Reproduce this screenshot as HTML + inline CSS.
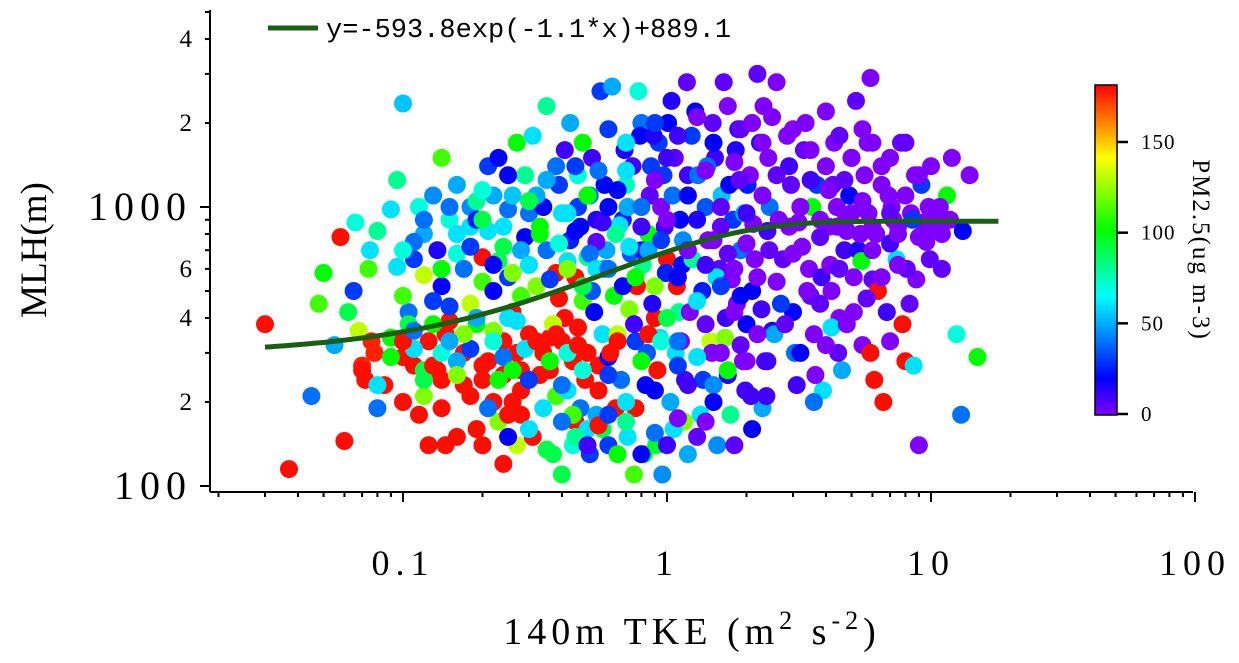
<!DOCTYPE html>
<html><head><meta charset="utf-8"><style>
html,body{margin:0;padding:0;background:#fff;}
svg{display:block;font-family:"Liberation Serif","Noto Serif CJK SC",serif;}
</style></head><body>
<svg id="chart" width="1239" height="663" viewBox="0 0 1239 663" xmlns="http://www.w3.org/2000/svg">
<defs>
<linearGradient id="cbg" x1="0" y1="1" x2="0" y2="0">
<stop offset="0" stop-color="#8000ff"/><stop offset="0.11" stop-color="#0000ff"/><stop offset="0.36" stop-color="#00ffff"/><stop offset="0.56" stop-color="#00ff00"/><stop offset="0.78" stop-color="#ffff00"/><stop offset="1" stop-color="#ff0000"/>
</linearGradient>
</defs>
<g id="points"></g>
<g id="fit"></g>
<g id="axes"></g>
<g>
<line x1="268" y1="28" x2="318" y2="28" stroke="#1a5e12" stroke-width="5"/>
<text x="326" y="37" font-size="27" font-family="Liberation Mono, monospace">y=-593.8exp(-1.1*x)+889.1</text>
</g>
<g>
<rect x="1095" y="85" width="22" height="330" fill="url(#cbg)" stroke="#000" stroke-width="1.5"/>
<g id="cbticks"></g>
<text transform="translate(1193,250) rotate(90)" text-anchor="middle" font-size="25" letter-spacing="2">PM2.5(ug m-3)</text>
</g>
<text transform="translate(46,250) rotate(-90)" text-anchor="middle" font-size="37">MLH(m)</text>
<text x="692" y="644" text-anchor="middle" font-size="38" letter-spacing="5">140m TKE (m<tspan font-size="26" dy="-15">2</tspan><tspan dy="15"> s</tspan><tspan font-size="26" dy="-15">-2</tspan><tspan dy="15">)</tspan></text>
</svg>
<script>
const tke=[
0.03,0.037,0.045,0.05,0.055,0.06,0.065,0.07,0.075,0.08,
0.048,0.058,0.068,0.072,0.078,0.062,0.074,0.08,0.066,0.076,
0.085,0.09,0.095,0.1,0.105,0.11,0.115,0.12,0.125,0.13,
0.135,0.14,0.145,0.15,0.09,0.1,0.11,0.12,0.13,0.14,
0.095,0.105,0.115,0.125,0.135,0.145,0.1,0.12,0.14,0.11,
0.16,0.17,0.18,0.19,0.2,0.21,0.22,0.23,0.24,0.25,
0.26,0.27,0.28,0.29,0.3,0.16,0.18,0.2,0.22,0.24,
0.17,0.19,0.21,0.23,0.25,0.27,0.29,0.18,0.2,0.22,
0.24,0.26,0.28,0.3,0.15,0.17,0.19,0.21,0.23,0.25,
0.16,0.2,0.24,0.28,0.18,0.22,0.26,0.3,0.19,0.27,
0.31,0.33,0.35,0.37,0.39,0.41,0.43,0.45,0.47,0.5,
0.52,0.55,0.58,0.6,0.32,0.34,0.36,0.38,0.4,0.42,
0.44,0.46,0.48,0.51,0.54,0.57,0.31,0.35,0.39,0.43,
0.47,0.51,0.55,0.59,0.33,0.37,0.41,0.45,0.49,0.53,
0.57,0.34,0.38,0.42,0.46,0.5,0.54,0.58,0.36,0.48,
0.32,0.4,0.44,0.52,0.56,0.6,0.38,0.46,0.54,0.42,
0.62,0.65,0.68,0.71,0.74,0.77,0.8,0.83,0.86,0.9,
0.93,0.96,1.0,1.04,1.08,1.12,1.16,1.2,0.63,0.67,
0.7,0.73,0.76,0.79,0.82,0.85,0.88,0.92,0.95,0.99,
1.03,1.07,1.11,1.15,1.19,0.64,0.69,0.75,0.81,0.87,
0.94,1.01,1.09,1.17,0.66,0.72,0.78,0.84,0.91,0.98,
1.05,1.13,0.61,0.71,0.8,0.89,0.97,1.06,1.14,0.76,
1.22,1.28,1.34,1.4,1.46,1.52,1.58,1.64,1.7,1.78,
1.86,1.94,2.02,2.1,2.2,2.3,2.4,2.5,1.25,1.31,
1.37,1.43,1.49,1.55,1.61,1.67,1.74,1.82,1.9,1.98,
2.06,2.15,2.25,2.35,2.45,1.24,1.36,1.48,1.6,1.72,
1.84,1.96,2.08,2.2,2.32,2.44,1.3,1.42,1.54,1.66,
1.76,1.88,2.0,2.12,2.28,2.42,1.5,1.8,2.1,2.38,
2.6,2.75,2.9,3.05,3.2,3.35,3.5,3.7,3.9,4.1,
4.3,4.5,4.7,4.9,5.2,5.5,5.8,6.0,2.65,2.85,
3.0,3.15,3.3,3.45,3.6,3.8,4.0,4.2,4.4,4.6,
4.8,5.0,5.3,5.6,5.9,2.7,2.95,3.25,3.55,3.85,
4.15,4.45,4.75,5.1,5.45,5.75,2.55,3.1,3.65,4.25,
6.2,6.5,6.8,7.1,7.4,7.7,8.0,8.4,8.8,9.2,
9.6,10,10.5,11,11.5,12,12.5,13,14,15,
6.3,6.9,7.5,8.1,8.7,9.3,9.9,10.8,6.6,7.2,
7.8,8.6,9.0,5.9,6.1,11.8,13.2,7.0,8.3,9.8,
0.1,0.11,0.12,0.13,0.14,0.15,0.16,0.17,0.18,0.19,
0.2,0.21,0.22,0.23,0.24,0.25,0.26,0.27,0.28,0.29,
0.3,0.32,0.34,0.36,0.38,0.4,0.42,0.44,0.46,0.48,
0.1,0.12,0.14,0.16,0.18,0.2,0.22,0.24,0.26,0.28,
0.3,0.33,0.36,0.39,0.42,0.45,0.48,0.51,0.54,0.57,
0.6,0.64,0.68,0.72,0.76,0.8,0.85,0.9,0.95,1.0,
0.6,0.65,0.7,0.75,0.8,0.85,0.9,0.95,1.0,1.1,
1.1,1.2,1.3,1.4,1.5,1.6,1.7,1.8,1.9,2.0,
1.1,1.2,1.3,1.4,1.5,1.6,1.7,1.8,1.9,2.0,
2.2,2.4,2.6,2.8,3.0,3.2,3.4,3.6,3.8,4.0,
4.2,4.5,4.8,5.1,5.4,5.7,6.0,6.5,7.0,7.5,
0.15,0.2,0.25,0.3,0.35,0.4,0.45,0.5,0.55,0.6,
0.65,0.7,0.8,0.9,1.0,1.2,1.4,1.6,1.8,2.0,
2.3,2.6,2.9,3.2,3.5,3.8,4.1,4.4,4.7,5.0,
5.5,6.0,6.5,7.0,7.5,8.0,8.5,9.0,10,11,
0.5,0.6,0.7,0.8,0.9,1.0,1.1,1.2,1.3,1.4,
0.07,0.08,0.09,0.1,0.11,0.12,0.13,0.14,0.15,0.16,
0.7,0.9,1.1,1.3,1.5,1.7,1.9,2.1,2.3,2.5,
3,3.5,4,4.5,5,5.5,6,7,8,9,
0.2,0.25,0.3,0.35,0.4,0.45,0.5,0.55,0.6,0.65];
const mlh=[
380,115,210,580,320,145,500,270,700,820,
450,780,360,240,300,420,600,190,880,330,
230,980,1250,2350,420,650,180,800,330,1100,
260,520,140,900,340,290,750,210,460,1500,
610,380,1000,140,700,350,480,570,240,270,
1200,300,850,160,540,1400,200,640,120,980,
420,1700,260,780,350,680,450,240,1100,330,
230,380,820,170,560,300,1300,1000,140,500,
720,200,480,950,390,600,1050,280,1500,400,
150,660,250,180,310,360,1100,620,900,140,
1800,250,700,130,1200,400,2000,170,850,300,
1500,220,600,1900,520,1000,340,210,110,640,
280,1300,460,130,900,350,150,2300,470,760,
190,1100,270,700,800,380,1600,560,240,420,
160,300,1400,220,1000,660,180,1200,260,1700,
1100,330,140,500,2600,290,580,370,750,950,
2700,350,900,150,1400,520,2000,230,1100,400,
1700,110,650,2400,300,900,170,1300,480,240,
1200,680,330,1800,130,800,450,260,1000,580,
200,1500,420,760,2800,190,1600,110,620,1400,
340,2000,520,240,860,430,2600,300,140,850,
1100,330,300,1000,700,1800,1300,160,620,190,
420,2200,180,1000,330,1500,600,2800,250,900,
1900,280,1200,500,3000,190,820,360,650,1300,
240,760,2000,140,1100,400,180,1600,700,220,
1300,650,1700,280,1000,1800,500,300,850,1200,
450,950,210,560,2300,700,900,1400,560,340,
550,1250,380,870,430,1500,230,140,160,210,
2800,650,1400,300,1000,2000,480,1200,220,850,
1700,400,700,1100,2400,320,950,550,900,1800,
420,880,1600,600,200,780,1400,370,1000,260,
820,1500,700,1300,2900,450,1200,720,1000,560,
620,300,900,420,640,1700,350,230,250,1200,
800,1400,420,1000,650,1700,280,950,550,1200,
750,1400,900,600,1100,1500,350,180,1300,290,
500,1100,850,600,1300,880,650,1000,200,900,
380,270,140,300,240,900,820,330,450,1000,
200,310,260,380,190,440,280,350,210,400,
270,190,330,240,290,180,260,390,220,310,
240,330,190,280,350,230,300,180,320,260,
700,900,600,800,720,900,620,850,580,700,
620,850,550,740,600,820,520,680,600,880,
600,800,520,720,560,850,700,520,760,900,
250,330,200,380,280,350,220,330,400,270,
560,700,460,620,760,520,680,600,480,740,
330,230,290,380,200,300,260,420,320,280,
350,280,540,380,680,300,500,350,450,320,
500,600,380,560,800,470,700,560,740,620,
1000,1150,1300,1050,1250,950,1400,1100,1350,1000,
1150,1350,1000,1250,1500,1100,1350,1000,1450,950,
1100,1300,850,1000,1250,900,1150,850,1250,950,
1050,850,1200,950,800,1100,900,780,850,800,
160,140,170,130,155,140,175,130,150,170,
260,230,290,330,360,240,270,300,330,250,
1700,2000,1800,2100,1700,2300,1900,2000,1700,2100,
1900,1600,2200,1800,1500,1900,1700,1500,1700,1300,
140,150,160,135,170,150,140,165,180,130];
const pm=[
178,178,40,100,50,178,30,175,60,80,
110,178,130,178,175,90,110,40,70,175,
178,60,80,55,40,30,178,50,178,45,
178,20,178,70,100,178,40,120,30,110,
60,90,70,178,15,178,110,130,178,178,
50,178,60,178,110,30,178,90,178,40,
178,100,178,20,178,70,130,178,50,178,
178,100,60,120,30,178,80,45,178,20,
90,178,110,40,178,40,80,178,20,60,
178,178,178,178,30,120,55,70,25,130,
60,178,40,90,30,178,50,178,20,178,
10,178,45,30,120,20,178,110,90,60,
178,70,110,30,15,60,178,80,178,25,
40,40,178,50,100,130,10,178,178,20,
90,178,40,60,30,80,50,20,178,100,
50,178,70,35,30,20,178,178,5,60,
50,130,25,60,10,178,40,20,5,178,
30,45,178,15,60,20,120,10,100,40,
75,35,30,20,90,100,15,178,0,25,
50,5,80,45,5,178,15,110,80,30,
60,20,178,10,60,120,70,35,95,10,
40,0,178,50,25,15,30,60,20,178,
0,20,60,35,130,10,5,5,15,30,
10,0,25,20,5,50,10,15,80,40,
30,0,5,45,55,10,80,15,40,10,
0,0,15,5,40,30,25,0,5,20,
0,50,10,0,0,5,15,40,60,120,
0,5,20,0,10,0,45,5,20,10,
0,5,10,40,0,0,5,30,60,0,
0,0,10,20,5,0,0,5,0,0,
20,0,5,0,40,5,0,60,0,50,
0,0,15,0,0,30,5,0,100,10,
0,5,0,0,100,0,50,10,0,5,
0,0,10,0,60,5,178,0,0,30,
0,0,0,5,100,0,70,40,0,100,
178,0,0,5,0,0,5,0,178,0,
178,60,0,178,178,0,20,0,5,0,
178,60,90,100,178,30,50,120,178,50,
178,40,70,100,40,178,100,60,178,60,
30,178,60,100,178,40,70,110,178,70,
70,40,100,60,30,90,20,60,120,50,
60,100,30,70,120,20,90,40,60,10,
40,80,20,60,100,10,50,120,30,0,
30,178,60,10,100,178,20,70,90,30,
20,0,60,10,0,30,5,0,20,0,
40,10,60,5,20,0,100,0,5,0,
0,10,0,5,0,20,0,0,5,0,
0,5,0,0,0,5,0,0,10,0,
40,70,20,90,50,60,30,100,40,20,
20,60,40,0,10,20,0,5,0,10,
0,5,0,0,10,0,0,0,5,0,
0,0,0,5,0,0,30,0,0,0,
60,30,80,20,40,10,0,50,5,0,
178,60,100,178,40,90,178,70,50,120,
60,30,10,0,20,0,5,0,0,0,
0,0,0,5,0,0,0,0,5,0,
178,20,60,90,40,80,10,178,30,100];
const fitCoef=[-593.8,-1.1,889.1];
const fitRange=[0.03,18];
const xTickVals=[0.1,1,10,100];
const xTickLabels=["0.1","1","10","100"];
const yTickVals=[4000,2000,1000,600,400,200,100];
const yTickLabels=["4","2","1000","6","4","2","100"];
const cbTickVals=[0,50,100,150];

const NS="http://www.w3.org/2000/svg";
const X0=210,X1=1193,Y0=492,Y1=10;
function xs(v){return 403+(Math.log10(v)+1)*264;}
function ys(v){return 486-(Math.log10(v)-2)*279;}
function cb(v){return 414-(v/150)*(414-142);}
function mk(t,a,p){const e=document.createElementNS(NS,t);for(const k in a)e.setAttribute(k,a[k]);(p||document.getElementById('axes')).appendChild(e);return e;}
const stops=[[0,[128,0,255]],[20,[0,0,255]],[65,[0,255,255]],[100,[0,255,0]],[140,[255,255,0]],[180,[255,0,0]]];
function col(v){v=Math.max(0,Math.min(180,v));for(let i=0;i<stops.length-1;i++){const a=stops[i],b=stops[i+1];if(v<=b[0]){const t=(v-a[0])/(b[0]-a[0]);const c=a[1].map((q,j)=>Math.round(q+(b[1][j]-q)*t));return `rgb(${c})`;}}return 'rgb(255,0,0)';}
const gp=document.getElementById('points');
for(let i=0;i<tke.length;i++){
 const c=mk('circle',{cx:xs(tke[i]).toFixed(1),cy:ys(mlh[i]).toFixed(1),r:9,fill:col(pm[i])},gp);
 
 
}
let d='';const n=120;
for(let i=0;i<=n;i++){const lx=Math.log10(fitRange[0])+(Math.log10(fitRange[1])-Math.log10(fitRange[0]))*i/n;const x=Math.pow(10,lx);const y=fitCoef[0]*Math.exp(fitCoef[1]*x)+fitCoef[2];d+=(i?'L':'M')+xs(x).toFixed(1)+','+ys(y).toFixed(1);}
const fp=mk('path',{d:d,fill:'none',stroke:'#1a5e12','stroke-width':5},document.getElementById('fit'));


const ax=mk('line',{x1:X0,y1:Y0,x2:X1,y2:Y0,stroke:'#000','stroke-width':2});


const ay=mk('line',{x1:X0,y1:Y0,x2:X0,y2:Y1,stroke:'#000','stroke-width':2});


for(let e=-2;e<=1;e++)for(let m=1;m<=9;m++){const v=m*Math.pow(10,e);const x=xs(v);if(x<X0||x>X1)continue;const L=m===1?10:5;mk('line',{x1:x,y1:Y0,x2:x,y2:Y0+L,stroke:'#000','stroke-width':2});}
mk('line',{x1:xs(100),y1:Y0,x2:xs(100),y2:Y0+10,stroke:'#000','stroke-width':2});
xTickVals.forEach((v,i)=>{const t=mk('text',{x:xs(v),y:575,'text-anchor':'middle','font-size':36,'letter-spacing':6});t.textContent=xTickLabels[i];
 
 });
for(let e=1;e<=3;e++)for(let m=1;m<=9;m++){const v=m*Math.pow(10,e);const y=ys(v);if(y>Y0||y<Y1)continue;const L=m===1?10:5;mk('line',{x1:X0,y1:y,x2:X0-L,y2:y,stroke:'#000','stroke-width':2});}
yTickVals.forEach((v,i)=>{const big=yTickLabels[i].length>1;const t=mk('text',{x:192,y:ys(v)+(big?13:8),'text-anchor':'end','font-size':big?40:25,'letter-spacing':big?6:0});t.textContent=yTickLabels[i];
 
 });
const cbg=document.getElementById('cbticks');
cbTickVals.forEach(v=>{mk('line',{x1:1117,y1:cb(v),x2:1128,y2:cb(v),stroke:'#000','stroke-width':2.5},cbg);const t=mk('text',{x:1141,y:cb(v)+7,'font-size':21,'letter-spacing':1},cbg);t.textContent=v;
 
 });
</script>
</body></html>
